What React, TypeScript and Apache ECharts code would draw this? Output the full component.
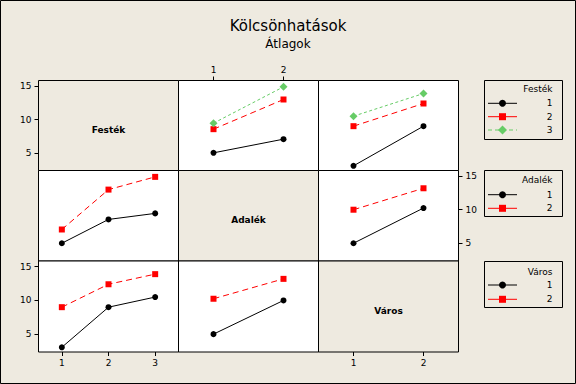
import React, { useEffect, useRef } from "react";
import * as echarts from "echarts";

// ---- data ----
const FACTOR_NAMES = ["Festék", "Adalék", "Város"];
const FESTEK_LEVELS = ["1", "2", "3"];
const ADALEK_LEVELS = ["1", "2"];
const VAROS_LEVELS = ["1", "2"];
const Y_TICKS = [5, 10, 15];
// means[festék level][adalék level]
const FESTEK_ADALEK_MEANS = [
  [5.0, 7.05],
  [8.55, 13.0],
  [9.45, 14.9],
];
// means[festék level][város level]
const FESTEK_VAROS_MEANS = [
  [3.05, 9.0],
  [9.0, 12.4],
  [10.5, 13.9],
];
// means[adalék level][város level]
const ADALEK_VAROS_MEANS = [
  [5.0, 10.25],
  [10.0, 13.2],
];
const TITLE = "Kölcsönhatások";
const SUBTITLE = "Átlagok";

const LEVELS = [FESTEK_LEVELS, ADALEK_LEVELS, VAROS_LEVELS];

const transpose = (m: number[][]) => m[0].map((_, j) => m.map((row) => row[j]));

// traces = levels of factor r, x = levels of factor c
function cellMeans(r: number, c: number): number[][] {
  if (r === 0 && c === 1) return FESTEK_ADALEK_MEANS;
  if (r === 0 && c === 2) return FESTEK_VAROS_MEANS;
  if (r === 1 && c === 2) return ADALEK_VAROS_MEANS;
  if (r === 1 && c === 0) return transpose(FESTEK_ADALEK_MEANS);
  if (r === 2 && c === 0) return transpose(FESTEK_VAROS_MEANS);
  return transpose(ADALEK_VAROS_MEANS);
}

// ---- styles / layout ----
const BG = "#EEEAE0";
const FONT = "DejaVu Sans";
const STYLES = [
  { color: "#000000", symbol: "circle", size: 6, dash: "solid" as any },
  { color: "#FF0000", symbol: "rect", size: 6, dash: [6, 4] as any },
  { color: "#66CC66", symbol: "diamond", size: 8, dash: [3, 2.5] as any },
];
const COL_X = [38.5, 178.5, 318.5];
const COL_W = 140;
const ROW_Y = [80.5, 170.5, 261];
const ROW_H = [90, 90.5, 91];
const Y_MIN = 2.35;
const Y_MAX = 15.85;

function buildOption() {
  const grid: any[] = [];
  const xAxis: any[] = [];
  const yAxis: any[] = [];
  const series: any[] = [];
  const graphic: any[] = [];

  for (let r = 0; r < 3; r++) {
    for (let c = 0; c < 3; c++) {
      const i = r * 3 + c;
      grid.push({
        left: COL_X[c],
        top: ROW_Y[r],
        width: COL_W,
        height: ROW_H[r],
        show: true,
        backgroundColor: r === c ? BG : "#FFFFFF",
        borderColor: "#000000",
        borderWidth: 1,
      });
      const nx = LEVELS[c].length;
      const xTicks = LEVELS[c].map(Number);
      let xPos: string | null = null;
      if (r === 0 && c === 1) xPos = "top";
      if (r === 2 && (c === 0 || c === 2)) xPos = "bottom";
      xAxis.push({
        type: "value",
        gridIndex: i,
        min: 0.5,
        max: nx + 0.5,
        show: xPos !== null,
        position: xPos || "bottom",
        splitLine: { show: false },
        axisLine: { show: false },
        axisTick: {
          show: true,
          length: 4,
          customValues: xTicks,
          lineStyle: { color: "#000", width: 1 },
        },
        axisLabel: {
          customValues: xTicks,
          color: "#000",
          fontFamily: FONT,
          fontSize: 9,
          margin: 6,
        },
      });
      let yPos: string | null = null;
      if ((r === 0 || r === 2) && c === 0) yPos = "left";
      if (r === 1 && c === 2) yPos = "right";
      yAxis.push({
        type: "value",
        gridIndex: i,
        min: Y_MIN,
        max: Y_MAX,
        show: yPos !== null,
        position: yPos || "left",
        splitLine: { show: false },
        axisLine: { show: false },
        axisTick: {
          show: true,
          length: 4,
          customValues: Y_TICKS,
          lineStyle: { color: "#000", width: 1 },
        },
        axisLabel: {
          customValues: Y_TICKS,
          color: "#000",
          fontFamily: FONT,
          fontSize: 9,
          margin: 7,
        },
      });

      if (r === c) {
        graphic.push({
          type: "text",
          x: COL_X[c] + COL_W / 2,
          y: ROW_Y[r] + ROW_H[r] / 2 + 4,
          style: {
            text: FACTOR_NAMES[r],
            fontFamily: FONT,
            fontWeight: "bold",
            fontSize: 9,
            fill: "#000",
            align: "center",
            verticalAlign: "middle",
          },
        });
        continue;
      }
      const means = cellMeans(r, c);
      means.forEach((trace, t) => {
        const st = STYLES[t];
        series.push({
          type: "line",
          xAxisIndex: i,
          yAxisIndex: i,
          data: LEVELS[c].map((lv, k) => [Number(lv), trace[k]]),
          symbol: st.symbol,
          symbolSize: st.size,
          showSymbol: true,
          color: st.color,
          itemStyle: { color: st.color },
          lineStyle: { color: st.color, width: 1, type: st.dash },
          silent: true,
        });
      });
    }
  }

  // legends
  const LEG_X = 484.5;
  const LEG_W = 78;
  const legendDefs = [
    { top: 80.5, h: 59, titleY: 89, rows: [103.3, 116.7, 130] },
    { top: 170.5, h: 46, titleY: 180, rows: [194.7, 208.3] },
    { top: 261.5, h: 46, titleY: 271.7, rows: [285, 299.3] },
  ];
  legendDefs.forEach((ld, f) => {
    graphic.push({
      type: "rect",
      shape: { x: LEG_X, y: ld.top, width: LEG_W, height: ld.h },
      style: { fill: "none", stroke: "#000", lineWidth: 1 },
    });
    graphic.push({
      type: "text",
      x: 552.5,
      y: ld.titleY,
      style: {
        text: FACTOR_NAMES[f],
        fontFamily: FONT,
        fontSize: 9,
        fill: "#000",
        align: "right",
        verticalAlign: "middle",
      },
    });
    LEVELS[f].forEach((lv, t) => {
      const st = STYLES[t];
      const y = ld.rows[t];
      const cx = 502.5;
      graphic.push({
        type: "line",
        shape: { x1: 488, y1: y, x2: 517, y2: y },
        style: {
          stroke: st.color,
          lineWidth: 1,
          lineDash: t === 2 ? [4, 3] : null,
        },
      });
      if (st.symbol === "circle") {
        graphic.push({ type: "circle", shape: { cx, cy: y, r: 3.5 }, style: { fill: st.color } });
      } else if (st.symbol === "rect") {
        graphic.push({ type: "rect", shape: { x: cx - 3.5, y: y - 3.5, width: 7, height: 7 }, style: { fill: st.color } });
      } else {
        graphic.push({
          type: "polygon",
          shape: { points: [[cx, y - 4.5], [cx + 4.5, y], [cx, y + 4.5], [cx - 4.5, y]] },
          style: { fill: st.color },
        });
      }
      graphic.push({
        type: "text",
        x: 552.5,
        y,
        style: {
          text: lv,
          fontFamily: FONT,
          fontSize: 9,
          fill: "#000",
          align: "right",
          verticalAlign: "middle",
        },
      });
    });
  });

  // outer frame
  graphic.push({
    type: "rect",
    shape: { x: 0.5, y: 0.5, width: 575, height: 383 },
    style: { fill: "none", stroke: "#000", lineWidth: 1 },
  });

  return {
    animation: false,
    backgroundColor: BG,
    title: [
      {
        text: TITLE,
        left: "center",
        top: 18,
        padding: 0,
        textStyle: { fontFamily: FONT, fontSize: 15, fontWeight: "normal", color: "#000" },
      },
      {
        text: SUBTITLE,
        left: "center",
        top: 38,
        padding: 0,
        textStyle: { fontFamily: FONT, fontSize: 12, fontWeight: "normal", color: "#000" },
      },
    ],
    grid,
    xAxis,
    yAxis,
    series,
    graphic,
  };
}

export default function App() {
  const ref = useRef<HTMLDivElement>(null);
  useEffect(() => {
    document.body.style.margin = "0";
    if (!ref.current) return;
    const chart = echarts.init(ref.current, undefined, { renderer: "svg" });
    chart.setOption(buildOption() as any);
    return () => chart.dispose();
  }, []);
  return <div ref={ref} style={{ width: 576, height: 384 }} />;
}
